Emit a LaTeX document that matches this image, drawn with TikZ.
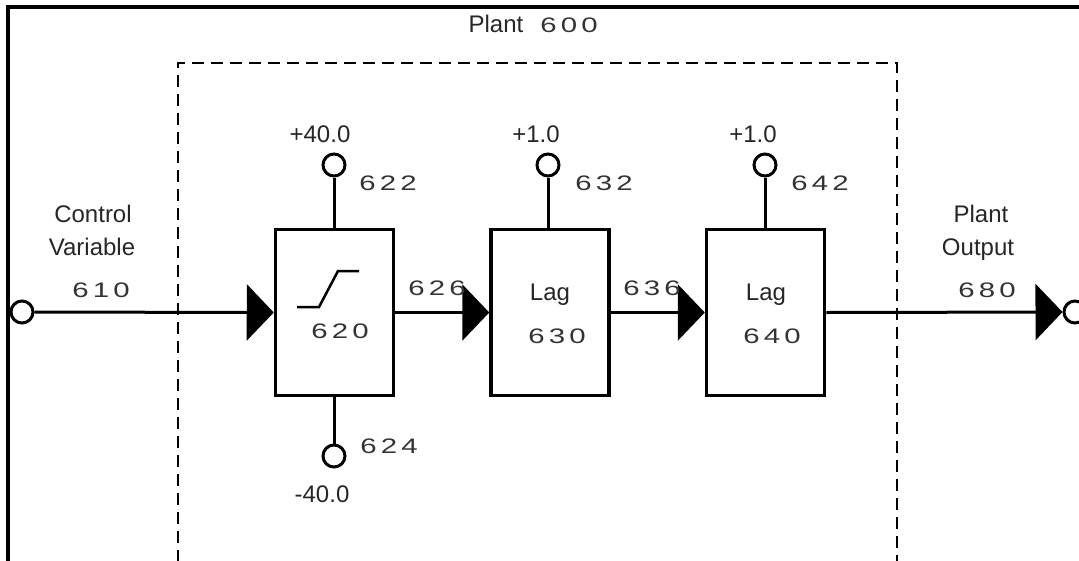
\documentclass[tikz,border=0pt]{standalone}
\usepackage{fontspec}
\setmainfont{Liberation Sans}
\newfontfamily\numfont[FakeStretch=1.4,LetterSpace=20]{Liberation Sans}
\usetikzlibrary{arrows.meta}
\begin{document}
\begin{tikzpicture}[x=1pt,y=-1pt,
  blk/.style={draw,line width=3.5pt,minimum width=118pt,minimum height=166pt,inner sep=0pt},
  port/.style={draw,circle,line width=3pt,minimum size=22pt,inner sep=0pt,fill=white},
  wire/.style={line width=3pt},
  flow/.style={line width=3pt,-{Triangle[length=27pt,width=56pt]}},
  lbl/.style={anchor=base,inner sep=0pt,text=black!85,font=\fontsize{24}{28}\selectfont},
  num/.style={anchor=base,inner sep=0pt,text=black!80,font=\numfont\fontsize{21}{24}\selectfont},
  plantbox/.style={line width=2.5pt,dash pattern=on 12pt off 7pt}]
\useasboundingbox (0,0) rectangle (1079,560);
% outer frame
\draw[line width=3.5pt] (8,562) -- (8,7) -- (1081,7);
% plant dashed box
\draw[plantbox] (178,562) -- (178,63) -- (897,63) -- (897,562);
\node[lbl] (plantlbl) at (496,32) {Plant};
\node[num] (plantnum) at (569,32) {600};
% blocks
\node[blk] (b620) at (334.5,312.5) {};
\node[blk] (b630) at (550,312.5) {};
\node[blk] (b640) at (765.5,312.5) {};
% saturation symbol
\draw[line width=2.5pt] (297,307) -- (319,307) -- (338,271) -- (359,271);
\node[num] (n620) at (340,338) {620};
\node[lbl] (lag630) at (550,300) {Lag};
\node[num] (n630) at (557,343) {630};
\node[lbl] (lag640) at (766,300) {Lag};
\node[num] (n640) at (772,343) {640};
% ports
\node[port] (in) at (22,312) {};
\node[port] (out) at (1075,312) {};
\node[port] (p622) at (334,165) {};
\node[port] (p624) at (334,456) {};
\node[port] (p632) at (548,165) {};
\node[port] (p642) at (765,165) {};
% stems
\draw[wire] (p622) -- (b620.north -| p622);
\draw[wire] (p624) -- (b620.south -| p624);
\draw[wire] (p632) -- (b630.north -| p632);
\draw[wire] (p642) -- (b640.north -| p642);
% flow connectors
\draw[flow] (in) -- (b620.west);
\draw[flow] (b620.east) -- (b630.west);
\draw[flow] (b630.east) -- (b640.west);
\draw[flow] (b640.east) -- (out.west);
% labels
\node[lbl] (cv1) at (93,222) {Control};
\node[lbl] (cv2) at (92,255) {Variable};
\node[num] (n610) at (101,297) {610};
\node[lbl] (po1) at (981,222) {Plant};
\node[lbl] (po2) at (978,255) {Output};
\node[num] (n680) at (987,297) {680};
\node[num] (n626) at (437,295) {626};
\node[num] (n636) at (652,295) {636};
\node[lbl] (v622) at (320,142) {+40.0};
\node[num] (n622) at (388,190) {622};
\node[lbl] (v632) at (536,142) {+1.0};
\node[num] (n632) at (604,190) {632};
\node[lbl] (v642) at (753,142) {+1.0};
\node[num] (n642) at (820,190) {642};
\node[num] (n624) at (389,453) {624};
\node[lbl] (v624) at (322,502) {-40.0};
\end{tikzpicture}
\end{document}
